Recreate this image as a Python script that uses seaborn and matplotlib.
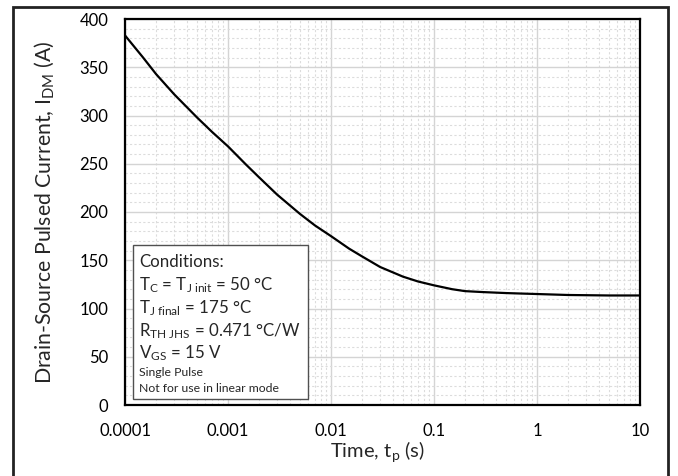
import numpy as np
import pandas as pd
import matplotlib
matplotlib.use("Agg")
import matplotlib.pyplot as plt
import seaborn as sns
from matplotlib.patches import Rectangle
from matplotlib.ticker import LogLocator, MultipleLocator, FixedLocator, FixedFormatter, NullFormatter

# pulse width (s) and max pulsed current (A)
time_s = [1e-4, 1.5e-4, 2e-4, 3e-4, 5e-4, 7e-4, 1e-3, 1.5e-3, 2e-3, 3e-3, 5e-3, 7e-3,
          1e-2, 1.5e-2, 2e-2, 3e-2, 5e-2, 7e-2, 1e-1, 1.5e-1, 2e-1, 3e-1, 5e-1, 7e-1,
          1.0, 2.0, 5.0, 10.0]
current_a = [383, 360, 343, 322, 298, 283, 268, 249, 236, 218, 198, 186,
             175, 162, 154, 143, 133, 128, 124, 120, 118, 117, 116, 115.5,
             115, 114, 113.5, 113.5]

x_ticks = [1e-4, 1e-3, 1e-2, 1e-1, 1, 10]
x_tick_labels = ["0.0001", "0.001", "0.01", "0.1", "1", "10"]

cond_lines = [
    ("Conditions:", 12.2),
    (r"T$_\mathrm{C}$ = T$_\mathrm{J\ init}$ = 50 °C", 12.2),
    (r"T$_\mathrm{J\ final}$ = 175 °C", 12.2),
    (r"R$_\mathrm{TH\ JHS}$ = 0.471 °C/W", 12.2),
    (r"V$_\mathrm{GS}$ = 15 V", 12.2),
    ("Single Pulse", 8.8),
    ("Not for use in linear mode", 8.8),
]

df = pd.DataFrame({"time": time_s, "idm": current_a})

sns.set_style("white")
plt.rcParams['font.family'] = ['Lato', 'DejaVu Sans']
plt.rcParams['mathtext.fontset'] = 'custom'
plt.rcParams['mathtext.rm'] = 'Lato'
plt.rcParams['mathtext.it'] = 'Lato'

fig = plt.figure(figsize=(6.78, 4.76), dpi=100)
ax = fig.add_axes([125 / 678, 1 - 405 / 476, 515 / 678, 386 / 476])

sns.lineplot(data=df, x="time", y="idm", ax=ax, color="black", linewidth=1.6)

ax.set_xscale("log")
ax.set_xlim(1e-4, 10)
ax.set_ylim(0, 400)

ax.xaxis.set_major_locator(FixedLocator(x_ticks))
ax.xaxis.set_major_formatter(FixedFormatter(x_tick_labels))
ax.xaxis.set_minor_locator(LogLocator(base=10, subs=np.arange(2, 10)))
ax.xaxis.set_minor_formatter(NullFormatter())
ax.yaxis.set_major_locator(MultipleLocator(50))
ax.yaxis.set_minor_locator(MultipleLocator(10))

ax.grid(which="major", color="#d4d4d4", linewidth=1.0)
ax.grid(which="minor", color="#dcdcdc", linewidth=0.8, linestyle=(0, (2, 2)))
ax.set_axisbelow(True)
ax.tick_params(which="both", length=0, labelsize=12, colors="black")
ax.tick_params(axis="y", pad=12)
ax.tick_params(axis="x", pad=13)

for s in ax.spines.values():
    s.set_color("black")
    s.set_linewidth(1.6)

ax.set_xlabel(r"Time, t$_\mathrm{p}$ (s)", fontsize=14.5, va="center")
ax.set_ylabel(r"Drain-Source Pulsed Current, I$_\mathrm{DM}$ (A)", fontsize=15.3, va="center")
ax.xaxis.set_label_coords(0.49, -0.12)
ax.yaxis.set_label_coords(-0.157, 0.5)

# conditions box
box = Rectangle((133 / 678, 1 - 399 / 476), 175 / 678, 154 / 476, transform=fig.transFigure,
                facecolor="white", edgecolor="#505050", linewidth=1.0, zorder=5)
fig.patches.append(box)
y_pos = [262, 285, 308, 331, 353, 373, 389]
for (txt, fs), yp in zip(cond_lines, y_pos):
    fig.text(139 / 678, 1 - yp / 476, txt, fontsize=fs, va="center", ha="left", zorder=6)

# outer border
border = Rectangle((13 / 678, -0.05), 655 / 678, 1.05 - 7 / 476, transform=fig.transFigure,
                   facecolor="none", edgecolor="#222222", linewidth=2.0, clip_on=False)
fig.patches.append(border)

plt.savefig("out.png", dpi=100)
plt.close()
